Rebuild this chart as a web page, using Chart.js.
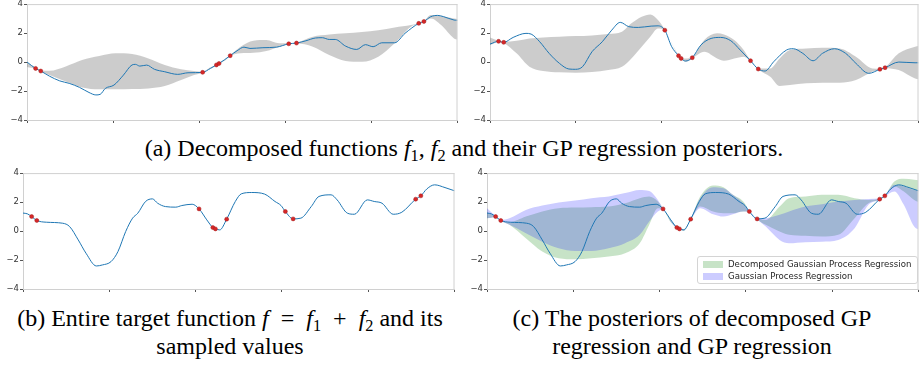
<!DOCTYPE html>
<html>
<head>
<meta charset="utf-8">
<script src="https://cdn.jsdelivr.net/npm/chart.js@4.4.0/dist/chart.umd.min.js"></script>
<style>
  body { margin: 0; width: 920px; height: 367px; overflow: hidden; background: #fff; position: relative; }
  canvas { position: absolute; }
  .cap { position: absolute; font-family: "Liberation Serif", "Times New Roman", serif; font-size: 24px; color: #000;
         text-align: center; white-space: nowrap; line-height: 28px; transform: translateX(-50%); }
  .cap sub { font-size: 0.68em; vertical-align: -0.3em; line-height: 0; }
  .cap .op { margin: 0 12px; }
  .legend { position: absolute; left: 697px; top: 256px; width: 219px; height: 26px; border: 1px solid #d4d4d4;
            border-radius: 3px; background: rgba(255,255,255,0.8); font-family: "DejaVu Sans", sans-serif; font-size: 8.6px; color: #262626; }
  .legend div { position: absolute; left: 5px; height: 12px; line-height: 12px; white-space: nowrap; }
  .legend span { display: inline-block; width: 20px; height: 7px; margin-right: 5px; vertical-align: -0.5px; }
</style>
</head>
<body>
<canvas id="c1" width="462" height="129" style="left:0;top:-2px"></canvas>
<canvas id="c2" width="460" height="129" style="left:463px;top:-2px"></canvas>
<canvas id="c3" width="463" height="129" style="left:-4px;top:167px"></canvas>
<canvas id="c4" width="463" height="129" style="left:460px;top:167px"></canvas>

<div class="cap" style="left:464px;top:134px">(a) Decomposed functions <i>f</i><sub>1</sub>, <i>f</i><sub>2</sub> and their GP regression posteriors.</div>
<div class="cap" style="left:230px;top:304px">(b) Entire target function <i>f</i><span class="op">=</span><i>f</i><sub>1</sub><span class="op">+</span><i>f</i><sub>2</sub> and its<br>sampled values</div>
<div class="cap" style="left:692px;top:304px">(c) The posteriors of decomposed GP<br>regression and GP regression</div>

<div class="legend">
  <div style="top:1px"><span style="background:rgba(0,128,0,0.22)"></span>Decomposed Gaussian Process Regression</div>
  <div style="top:13px"><span style="background:rgba(0,0,255,0.2)"></span>Gaussian Process Regression</div>
</div>

<script>
// sampled inputs (shared by all panels)
const sampleX = [0.10, 0.16, 2.04, 2.20, 2.23, 2.36, 3.04, 3.13, 4.55, 4.61];

// (a) left: f1 and its posterior
const f1X = [0, 0.10, 0.16, 0.26, 0.38, 0.49, 0.61, 0.72, 0.80, 0.85, 0.91, 1.01, 1.12, 1.22, 1.26, 1.31, 1.39, 1.48, 1.60, 1.75,
  1.87, 2.04, 2.13, 2.20, 2.23, 2.36, 2.44, 2.52, 2.59, 2.74, 2.90, 3.04, 3.13, 3.24, 3.35, 3.43, 3.51, 3.58, 3.70, 3.83,
  3.93, 4.02, 4.12, 4.27, 4.39, 4.55, 4.61, 4.69, 4.77, 4.84, 4.96, 5.0];
const f1Y = [0.0, -0.44, -0.62, -0.97, -1.3, -1.47, -1.75, -2.1, -2.27, -2.23, -1.82, -1.59, -0.9, -0.2, -0.16, -0.28, -0.21, -0.5, -0.67, -0.85,
  -0.74, -0.71, -0.44, -0.2, -0.1, 0.44, 0.78, 1.03, 0.94, 0.99, 1.03, 1.26, 1.31, 1.47, 1.66, 1.68, 1.56, 1.56, 1.1, 0.87,
  1.2, 1.06, 1.33, 1.33, 1.98, 2.67, 2.8, 3.13, 3.22, 3.13, 2.9, 2.88];
const f1Sample = [-0.44, -0.62, -0.71, -0.2, -0.1, 0.44, 1.26, 1.31, 2.67, 2.8];
const band1X = [0, 0.10, 0.16, 0.26, 0.45, 0.64, 0.84, 1.03, 1.22, 1.41, 1.60, 1.79, 1.94, 2.04, 2.12, 2.20, 2.23, 2.30, 2.36, 2.48,
  2.63, 2.78, 2.93, 3.04, 3.13, 3.32, 3.51, 3.70, 3.89, 4.08, 4.27, 4.46, 4.55, 4.61, 4.69, 4.81, 4.96, 5.0];
const f1Upper = [-0.05, -0.40, -0.58, -0.6, -0.3, 0.14, 0.41, 0.6, 0.55, 0.25, -0.2, -0.5, -0.62, -0.68, -0.4, -0.17, -0.07, 0.2, 0.47, 1.06,
  1.47, 1.52, 1.29, 1.29, 1.34, 1.75, 1.9, 1.98, 2.07, 2.2, 2.39, 2.55, 2.7, 2.83, 3.24, 3.17, 3.0, 2.97];
const f1Lower = [-0.35, -0.48, -0.66, -0.9, -1.35, -1.75, -1.88, -1.88, -1.86, -1.82, -1.65, -1.24, -0.9, -0.74, -0.5, -0.23, -0.13, 0.1, 0.41, 0.6,
  0.64, 0.76, 1.06, 1.23, 1.28, 1.06, 0.48, 0.07, 0.02, 0.37, 1.29, 2.44, 2.64, 2.77, 3.0, 2.55, 1.63, 1.55];

// (a) right: f2 and its posterior
const f2X = [0, 0.10, 0.16, 0.27, 0.42, 0.48, 0.58, 0.69, 0.81, 0.92, 1.0, 1.08, 1.19, 1.31, 1.42, 1.52, 1.62, 1.73, 1.88, 1.96,
  2.04, 2.12, 2.20, 2.23, 2.28, 2.36, 2.46, 2.58, 2.69, 2.81, 2.92, 3.04, 3.13, 3.21, 3.31, 3.46, 3.54, 3.65, 3.77, 3.88,
  4.02, 4.15, 4.27, 4.42, 4.55, 4.61, 4.77, 4.96, 5.0];
const f2Y = [1.24, 1.43, 1.36, 1.7, 1.98, 1.93, 1.4, 0.6, -0.09, -0.48, -0.5, -0.32, 0.71, 1.4, 2.2, 2.74, 2.44, 2.39, 2.48, 2.5,
  2.2, 1.06, 0.44, 0.25, 0.07, 0.3, 1.17, 1.63, 1.7, 1.47, 0.83, 0.09, -0.48, -0.62, 0.02, 0.83, 0.92, 0.6, 0.09, 0.6,
  0.92, 0.6, -0.09, -0.78, -0.5, -0.39, 0.0, -0.05, -0.05];
const f2Sample = [1.43, 1.36, 2.2, 0.44, 0.25, 0.3, 0.09, -0.48, -0.5, -0.39];
const band2X = [0, 0.10, 0.16, 0.31, 0.46, 0.62, 0.81, 1.0, 1.19, 1.38, 1.54, 1.65, 1.77, 1.87, 1.96, 2.04, 2.20, 2.23, 2.28, 2.36,
  2.5, 2.65, 2.73, 2.85, 2.96, 3.04, 3.13, 3.27, 3.38, 3.5, 3.69, 3.88, 4.08, 4.27, 4.46, 4.55, 4.61, 4.77, 4.96, 5.0];
const f2Upper = [1.7, 1.47, 1.40, 1.47, 1.63, 1.7, 1.75, 1.79, 1.84, 1.93, 2.09, 2.67, 3.13, 3.29, 2.9, 2.24, 0.47, 0.28, 0.25, 0.33,
  1.52, 1.98, 1.91, 1.52, 0.83, 0.12, -0.45, -0.44, 0.25, 0.83, 0.94, 0.99, 0.94, 0.37, -0.44, -0.47, -0.36, 0.6, 1.06, 1.1];
const f2Lower = [1.17, 1.39, 1.32, 0.6, -0.32, -0.62, -0.71, -0.74, -0.69, -0.55, -0.32, 0.25, 1.06, 1.75, 2.32, 2.16, 0.41, 0.22, 0.02, 0.27,
  0.71, 0.25, 0.09, 0.25, 0.37, 0.06, -0.51, -1.01, -1.65, -1.59, -1.47, -1.43, -1.43, -1.24, -0.67, -0.53, -0.42, -0.55, -1.13, -1.18];

// (b) f = f1 + f2
const fX = [0, 0.05, 0.10, 0.16, 0.27, 0.46, 0.54, 0.64, 0.73, 0.85, 0.92, 1.02, 1.10, 1.19, 1.27, 1.33, 1.42, 1.50, 1.56, 1.65,
  1.77, 1.84, 1.96, 2.04, 2.13, 2.20, 2.23, 2.28, 2.36, 2.46, 2.53, 2.65, 2.80, 2.92, 2.99, 3.04, 3.13, 3.22, 3.34, 3.43,
  3.57, 3.64, 3.76, 3.84, 3.99, 4.07, 4.16, 4.29, 4.39, 4.55, 4.61, 4.68, 4.77, 4.89, 5.0];
const fY = [1.24, 1.19, 1.0, 0.73, 0.61, 0.54, 0.31, -0.61, -1.53, -2.41, -2.34, -2.11, -1.42, -0.03, 0.89, 1.23, 2.04, 2.22, 1.92, 1.69,
  1.65, 1.76, 1.85, 1.53, 0.77, 0.24, 0.15, 0.08, 0.82, 2.04, 2.57, 2.66, 2.55, 2.04, 1.76, 1.35, 0.84, 0.89, 1.69, 2.39,
  2.5, 2.15, 1.23, 1.16, 2.15, 2.04, 1.92, 1.16, 1.3, 2.2, 2.43, 2.91, 3.19, 3.0, 2.78];
const fSample = [1.0, 0.73, 1.53, 0.24, 0.15, 0.82, 1.35, 0.84, 2.2, 2.43];

// (c) posteriors
const band4X = [0, 0.10, 0.16, 0.26, 0.45, 0.64, 0.83, 1.02, 1.21, 1.41, 1.60, 1.77, 1.88, 1.98, 2.04, 2.13, 2.20, 2.23, 2.28, 2.36,
  2.47, 2.62, 2.74, 2.85, 2.97, 3.04, 3.13, 3.23, 3.39, 3.50, 3.69, 3.88, 4.07, 4.26, 4.42, 4.55, 4.61, 4.72, 4.83, 4.95, 5.0];
const gpUpper = [1.58, 1.04, 0.77, 0.89, 1.46, 1.76, 1.97, 2.11, 2.27, 2.38, 2.62, 2.84, 2.77, 2.15, 1.57, 0.72, 0.28, 0.19, 0.12, 0.86,
  2.27, 3.03, 2.96, 2.5, 1.92, 1.39, 0.88, 0.89, 1.12, 1.35, 1.69, 1.85, 2.04, 2.15, 2.22, 2.24, 2.47, 3.19, 3.08, 2.84, 2.8];
const gpLower = [0.89, 0.96, 0.69, 0.43, -0.15, -0.73, -1.19, -1.37, -1.37, -1.19, -0.84, -0.26, 0.66, 1.35, 1.49, 0.62, 0.20, 0.11, 0.04, 0.78,
  1.58, 1.16, 1.0, 1.16, 1.35, 1.31, 0.80, 0.31, -0.61, -0.84, -0.77, -0.73, -0.61, 0.2, 1.81, 2.16, 2.39, 2.73, 1.81, 0.31, 0.1];
const dgpUpper = [1.3, 1.04, 0.77, 0.61, 1.0, 1.35, 1.58, 1.62, 1.65, 1.69, 1.92, 2.27, 2.38, 2.04, 1.57, 0.75, 0.28, 0.19, 0.14, 0.86,
  2.38, 3.15, 3.03, 2.5, 2.04, 1.39, 0.88, 0.77, 1.69, 2.27, 2.38, 2.5, 2.5, 2.27, 2.15, 2.24, 2.47, 3.42, 3.61, 3.54, 3.5];
const dgpLower = [0.89, 0.96, 0.69, 0.43, -0.5, -1.42, -1.88, -1.95, -1.88, -1.76, -1.53, -0.84, 0.43, 1.58, 1.49, 0.6, 0.20, 0.11, 0.02, 0.78,
  1.69, 1.35, 1.23, 1.23, 1.35, 1.31, 0.80, 0.43, -0.03, -0.26, -0.33, -0.38, -0.26, 0.89, 1.92, 2.16, 2.39, 3.08, 2.73, 2.15, 2.0];

const BLUE = '#1f77b4';
const RED = '#d62728';
const GRAY = 'rgba(128,128,128,0.4)';
const GREEN_FILL = 'rgba(0,128,0,0.22)';
const PURPLE_FILL = 'rgba(0,0,255,0.2)';

function pts(xs, ys) {
  return xs.map((x, i) => ({ x: x, y: ys[i] }));
}

function lineSet(xs, ys) {
  return { data: pts(xs, ys), borderColor: BLUE, borderWidth: 1, pointRadius: 0, fill: false,
           cubicInterpolationMode: 'monotone', order: 1 };
}

function sampleSet(ys) {
  return { data: pts(sampleX, ys), showLine: false, pointRadius: 2, pointBackgroundColor: RED,
           pointBorderColor: '#a31d1d', pointBorderWidth: 0.5, order: 0 };
}

// upper edge fills down to the next dataset (the lower edge)
function bandSets(xs, upper, lower, color, order) {
  return [
    { data: pts(xs, upper), borderWidth: 0, pointRadius: 0, backgroundColor: color, fill: '+1',
      cubicInterpolationMode: 'monotone', order: order },
    { data: pts(xs, lower), borderWidth: 0, pointRadius: 0, fill: false,
      cubicInterpolationMode: 'monotone', order: order }
  ];
}

const frame = {
  id: 'frame',
  afterDraw(chart) {
    const { ctx, chartArea: a } = chart;
    ctx.save();
    ctx.strokeStyle = '#d0d0d0';
    ctx.lineWidth = 1;
    ctx.beginPath();
    ctx.moveTo(a.left, a.top + 0.5);
    ctx.lineTo(a.right, a.top + 0.5);
    ctx.moveTo(a.right - 0.5, a.top);
    ctx.lineTo(a.right - 0.5, a.bottom);
    ctx.stroke();
    ctx.restore();
  }
};

function makeChart(id, datasets) {
  return new Chart(document.getElementById(id), {
    type: 'line',
    data: { datasets: datasets },
    plugins: [frame],
    options: {
      responsive: false,
      animation: false,
      events: [],
      devicePixelRatio: 1,
      layout: { padding: { top: 6, right: 1, bottom: 2, left: 0 } },
      plugins: { legend: { display: false }, tooltip: { enabled: false } },
      scales: {
        x: {
          type: 'linear', min: 0, max: 5,
          ticks: { stepSize: 1, display: false },
          grid: { drawOnChartArea: false, tickLength: 3, tickColor: '#555' },
          border: { color: '#d0d0d0' },
          afterFit: s => { s.height = 5; }
        },
        y: {
          min: -4, max: 4,
          ticks: {
            stepSize: 2, padding: 1, color: '#333',
            font: { family: 'DejaVu Sans', size: 8.5 },
            callback: v => String(v).replace('-', '\u2212')
          },
          grid: { drawOnChartArea: false, tickLength: 3, tickColor: '#555' },
          border: { color: '#d0d0d0' },
          afterFit: s => { s.width = 27; }
        }
      }
    }
  });
}

makeChart('c1', [sampleSet(f1Sample), lineSet(f1X, f1Y)].concat(bandSets(band1X, f1Upper, f1Lower, GRAY, 2)));
makeChart('c2', [sampleSet(f2Sample), lineSet(f2X, f2Y)].concat(bandSets(band2X, f2Upper, f2Lower, GRAY, 2)));
makeChart('c3', [sampleSet(fSample), lineSet(fX, fY)]);
makeChart('c4', [sampleSet(fSample), lineSet(fX, fY)]
  .concat(bandSets(band4X, gpUpper, gpLower, PURPLE_FILL, 2))
  .concat(bandSets(band4X, dgpUpper, dgpLower, GREEN_FILL, 3)));
</script>
</body>
</html>
